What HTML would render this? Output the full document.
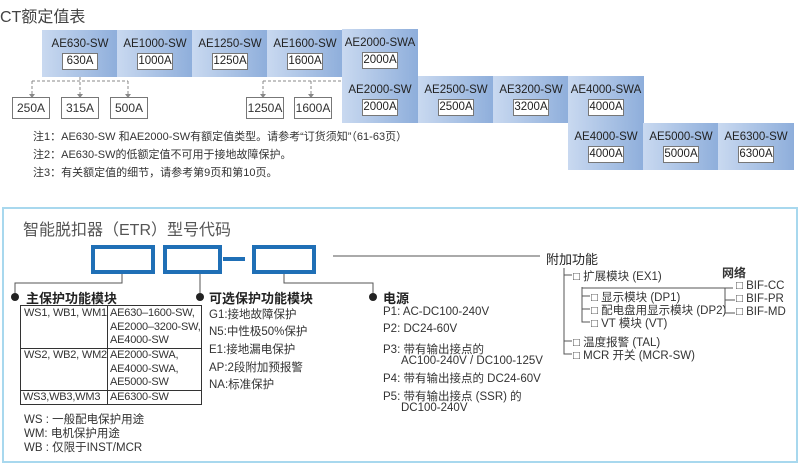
<!DOCTYPE html>
<html><head><meta charset="utf-8"><style>
*{margin:0;padding:0;box-sizing:border-box}
body{width:800px;height:464px;background:#fff;position:relative;overflow:hidden;font-family:"Liberation Sans","Noto Sans CJK SC",sans-serif;color:#333}
.a{position:absolute;white-space:nowrap}
.cell{position:absolute;width:76px;height:47px;background:linear-gradient(90deg,#c9d9f0,#8eaedb);text-align:center;font-size:11.5px;color:#222}
.cell .m{position:absolute;top:8px;left:0;right:0}
.cell .v{position:absolute;top:23px;left:50%;margin-left:-18px;width:36px;height:17px;background:#fff;border:1px solid #777;font-size:11.5px;line-height:15px}
.sb{position:absolute;width:38px;height:22px;border:1px solid #777;background:#fff;font-size:12px;text-align:center;line-height:20px}
.n{font-size:11px;color:#333}
.bx{position:absolute;border:4px solid #1f6fb6}
.t{font-size:11.5px;color:#333}
.tb{position:absolute;font-size:11px;line-height:13.5px;color:#333;white-space:nowrap;letter-spacing:-0.2px}
.h{font-size:13px;font-weight:bold;color:#222}
</style></head><body>
<div class="a" style="left:0;top:3px;font-size:16px;color:#444">CT额定值表</div>

<div class="cell" style="left:42px;top:30px"><div class="m">AE630-SW</div><div class="v">630A</div></div>
<div class="cell" style="left:117px;top:30px"><div class="m">AE1000-SW</div><div class="v">1000A</div></div>
<div class="cell" style="left:192px;top:30px"><div class="m">AE1250-SW</div><div class="v">1250A</div></div>
<div class="cell" style="left:267px;top:30px"><div class="m">AE1600-SW</div><div class="v">1600A</div></div>
<div class="cell" style="left:342px;top:29px"><div class="m">AE2000-SWA</div><div class="v">2000A</div></div>
<div class="cell" style="left:342px;top:76px"><div class="m">AE2000-SW</div><div class="v">2000A</div></div>
<div class="cell" style="left:418px;top:76px"><div class="m">AE2500-SW</div><div class="v">2500A</div></div>
<div class="cell" style="left:493px;top:76px"><div class="m">AE3200-SW</div><div class="v">3200A</div></div>
<div class="cell" style="left:568px;top:76px"><div class="m">AE4000-SWA</div><div class="v">4000A</div></div>
<div class="cell" style="left:568px;top:123px"><div class="m">AE4000-SW</div><div class="v">4000A</div></div>
<div class="cell" style="left:643px;top:123px"><div class="m">AE5000-SW</div><div class="v">5000A</div></div>
<div class="cell" style="left:718px;top:123px"><div class="m">AE6300-SW</div><div class="v">6300A</div></div>

<svg class="a" style="left:0;top:0" width="800" height="464">
<g stroke="#888" stroke-dasharray="3,2" fill="none">
<path d="M80 77V97M32 81H128M32 81V96M128 81V96M263 81H342M263 81V96M311 81V96"/>
</g>
<g fill="#888"><path d="M29 94h6l-3 4zM77 94h6l-3 4zM125 94h6l-3 4zM260 94h6l-3 4zM308 94h6l-3 4z"/></g>
<rect x="3" y="208" width="794" height="254" fill="none" stroke="#a8d8ee" stroke-width="2"/>
<g stroke="#555" fill="none" stroke-width="1">
<path d="M122 273V283H15V294M200 273V294M284 273V283H373V294M333 256H540"/>
<path d="M564 268V354H572M564 275H572M564 341H572M582 287V322H590M582 296H590M582 309H590M582 288H733M725 288V313H735M725 300H735"/>
</g>
<g fill="#222"><circle cx="15" cy="297" r="4"/><circle cx="200" cy="297" r="4"/><circle cx="373" cy="297" r="4"/></g>
<rect x="223" y="257" width="22" height="4" fill="#1f6fb6"/>
<g stroke="#333" fill="none" stroke-width="1">
<rect x="20.5" y="305.5" width="181" height="99"/>
<path d="M107.5 305V404M20 348.5H201M20 390.5H201"/>
</g>
</svg>

<div class="sb" style="left:12px;top:97px">250A</div>
<div class="sb" style="left:61px;top:97px">315A</div>
<div class="sb" style="left:110px;top:97px">500A</div>
<div class="sb" style="left:246px;top:97px">1250A</div>
<div class="sb" style="left:294px;top:97px">1600A</div>

<div class="a n" style="left:33px;top:128px">注1：AE630-SW 和AE2000-SW有额定值类型。请参考“订货须知”（61-63页）</div>
<div class="a n" style="left:33px;top:146px">注2：AE630-SW的低额定值不可用于接地故障保护。</div>
<div class="a n" style="left:33px;top:164px">注3：有关额定值的细节，请参考第9页和第10页。</div>

<div class="a" style="left:23px;top:216px;font-size:16px;color:#555">智能脱扣器（ETR）型号代码</div>
<div class="bx" style="left:91px;top:245px;width:64px;height:29px"></div>
<div class="bx" style="left:163px;top:245px;width:59px;height:29px"></div>
<div class="bx" style="left:252px;top:245px;width:64px;height:29px"></div>

<div class="a h" style="left:26px;top:288px">主保护功能模块</div>
<div class="a h" style="left:209px;top:288px">可选保护功能模块</div>
<div class="a h" style="left:383px;top:288px">电源</div>
<div class="a h" style="left:546px;top:249px;font-weight:normal">附加功能</div>

<div class="tb" style="left:24px;top:307px">WS1, WB1, WM1</div>
<div class="tb" style="left:110px;top:307px">AE630–1600-SW,<br>AE2000–3200-SW,<br>AE4000-SW</div>
<div class="tb" style="left:24px;top:349px">WS2, WB2, WM2</div>
<div class="tb" style="left:110px;top:349px">AE2000-SWA,<br>AE4000-SWA,<br>AE5000-SW</div>
<div class="tb" style="left:23px;top:391px">WS3,WB3,WM3</div>
<div class="tb" style="left:110px;top:391px">AE6300-SW</div>

<div class="a t" style="left:24px;top:411px">WS : 一般配电保护用途</div>
<div class="a t" style="left:24px;top:425px">WM: 电机保护用途</div>
<div class="a t" style="left:24px;top:439px">WB : 仅限于INST/MCR</div>

<div class="a t" style="left:209px;top:306px">G1:接地故障保护</div>
<div class="a t" style="left:209px;top:323px">N5:中性极50%保护</div>
<div class="a t" style="left:209px;top:341px">E1:接地漏电保护</div>
<div class="a t" style="left:209px;top:359px">AP:2段附加预报警</div>
<div class="a t" style="left:209px;top:376px">NA:标准保护</div>

<div class="a t" style="left:383px;top:306px">P1: AC-DC100-240V</div>
<div class="a t" style="left:383px;top:323px">P2: DC24-60V</div>
<div class="a t" style="left:383px;top:341px">P3: 带有输出接点的</div>
<div class="a t" style="left:401px;top:355px">AC100-240V / DC100-125V</div>
<div class="a t" style="left:383px;top:370px">P4: 带有输出接点的 DC24-60V</div>
<div class="a t" style="left:383px;top:388px">P5: 带有输出接点 (SSR) 的</div>
<div class="a t" style="left:401px;top:402px">DC100-240V</div>

<div class="a t" style="left:573px;top:268px">□ 扩展模块 (EX1)</div>
<div class="a t" style="left:591px;top:289px">□ 显示模块 (DP1)</div>
<div class="a t" style="left:591px;top:302px">□ 配电盘用显示模块 (DP2)</div>
<div class="a t" style="left:591px;top:315px">□ VT 模块 (VT)</div>
<div class="a t" style="left:573px;top:334px">□ 温度报警 (TAL)</div>
<div class="a t" style="left:573px;top:347px">□ MCR 开关 (MCR-SW)</div>
<div class="a" style="left:722px;top:264px;font-size:12px;font-weight:bold;color:#333">网络</div>
<div class="a t" style="left:736px;top:280px">□ BIF-CC</div>
<div class="a t" style="left:736px;top:293px">□ BIF-PR</div>
<div class="a t" style="left:736px;top:306px">□ BIF-MD</div>
</body></html>
